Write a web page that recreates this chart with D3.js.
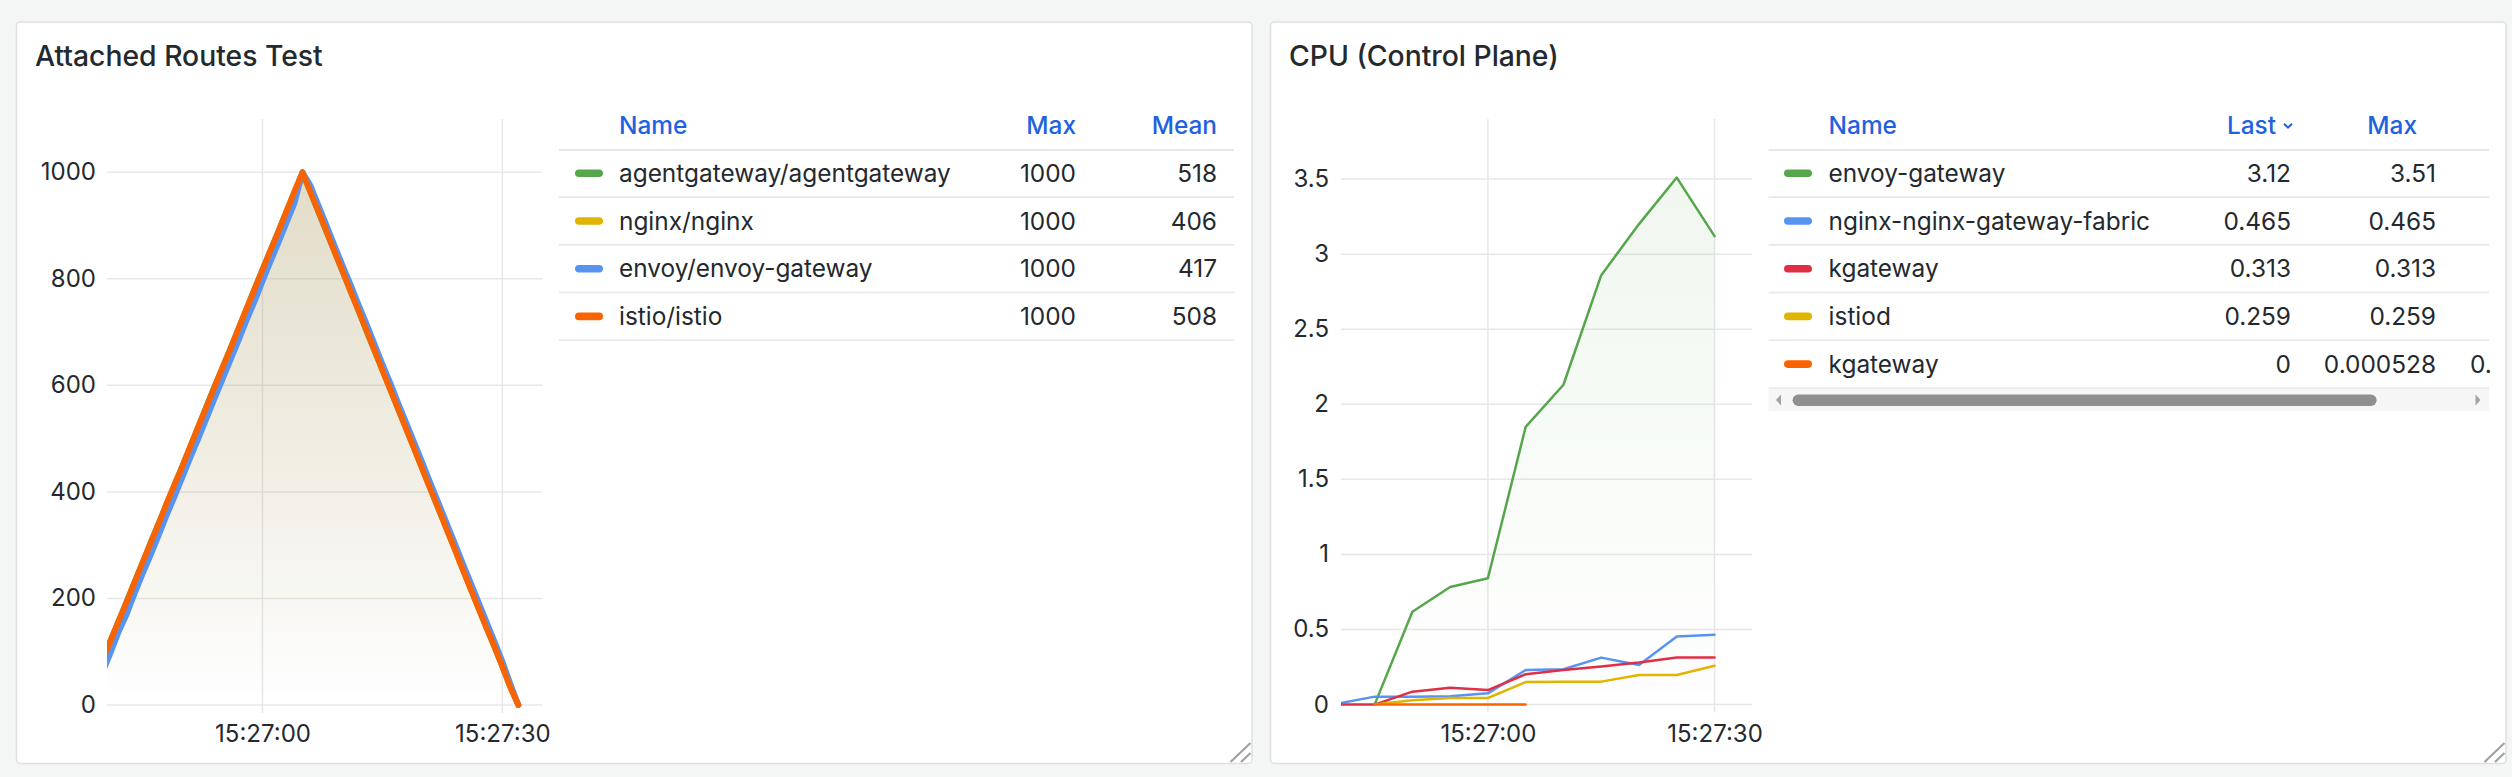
<!DOCTYPE html>
<html>
<head>
<meta charset="utf-8">
<script src="https://cdn.jsdelivr.net/npm/d3@7"></script>
<style>
  html, body { margin: 0; padding: 0; background: #f4f5f5; }
  svg { display: block; font-family: Inter, "Noto Sans", sans-serif; }
</style>
</head>
<body>
<svg id="chart" width="2512" height="777"></svg>
<script>
// ---------------- DATA ----------------
// Attached Routes Test: seconds after 15:26:00, one sample per second
const routeSeconds = [
  40,41,42,43,44,45,46,47,48,49,
  50,51,52,53,54,55,56,57,58,59,
  60,61,62,63,64,65,66,67,68,69,
  70,71,72,73,74,75,76,77,78,79,
  80,81,82,83,84,85,86,87,88,89,
  90,91,92
];
const routeNames = ["agentgateway/agentgateway", "nginx/nginx", "envoy/envoy-gateway", "istio/istio"];
const routeColors = ["#56A64B", "#E0B400", "#5794F2", "#FA6400"];
const agentgatewayRoutes = [
  86,122,157,194,230,267,305,341,377,413,
  450,486,523,561,598,633,670,706,743,781,
  818,853,890,926,963,1000,963,925,888,852,
  814,778,741,702,665,629,592,554,518,481,
  443,406,368,332,295,257,220,183,146,109,
  73,34,0
];
const nginxRoutes = [
  72,108,146,180,219,255,291,329,366,402,
  437,475,512,548,585,622,657,695,732,768,
  805,842,877,915,952,994,965,928,891,854,
  817,780,743,706,668,631,594,557,520,483,
  445,408,371,334,297,259,222,185,148,113,
  76,38,0
];
const envoyRoutes = [
  62,98,137,170,209,246,281,318,356,391,
  428,465,501,538,575,611,648,684,722,757,
  795,832,868,905,942,1000,975,938,901,863,
  826,790,752,716,678,640,604,566,529,492,
  455,417,380,343,306,268,231,194,157,120,
  82,40,0
];
const istioRoutes = [
  85,121,158,193,231,268,304,340,378,414,
  449,487,524,560,597,634,669,707,744,780,
  817,854,889,927,964,1000,962,926,889,851,
  815,777,740,703,666,628,591,555,517,480,
  442,405,369,331,294,256,219,182,145,110,
  72,33,0
];
const routeMax = ["1000", "1000", "1000", "1000"];
const routeMean = ["518", "406", "417", "508"];
const routeYTicks = [0, 200, 400, 600, 800, 1000];

// CPU (Control Plane): 5 second samples
const cpuTimes = ["15:26:40","15:26:45","15:26:50","15:26:55","15:27:00","15:27:05","15:27:10","15:27:15","15:27:20","15:27:25","15:27:30"];
const cpuEnvoyGateway = [null, 0, 0.618, 0.783, 0.842, 1.85, 2.13, 2.86, 3.20, 3.51, 3.12];
const cpuNginxFabric  = [0.005, 0.053, 0.053, 0.055, 0.075, 0.23, 0.235, 0.313, 0.264, 0.453, 0.465];
const cpuKgateway     = [0, 0, 0.086, 0.113, 0.097, 0.202, 0.231, 0.253, 0.28, 0.313, 0.313];
const cpuIstiod       = [null, 0, 0.029, 0.044, 0.044, 0.15, 0.153, 0.153, 0.197, 0.197, 0.259];
const cpuKgateway2    = [null, 0, 0, 0.000528, 0, 0, null, null, null, null, null];
const cpuNames  = ["envoy-gateway", "nginx-nginx-gateway-fabric", "kgateway", "istiod", "kgateway"];
const cpuColors = ["#56A64B", "#5794F2", "#E02F44", "#E0B400", "#FA6400"];
const cpuLast = ["3.12", "0.465", "0.313", "0.259", "0"];
const cpuMax  = ["3.51", "0.465", "0.313", "0.259", "0.000528"];
// third legend column: only its first characters are visible before the scroll edge
const cpuThirdVisible = ["", "", "", "", "0."];
const cpuYTicks = [0, 0.5, 1, 1.5, 2, 2.5, 3, 3.5];

const timeTicks = ["15:27:00", "15:27:30"];
const timeDomain = ["15:26:40.550", "15:27:34.960"];

// ---------------- RENDER ----------------
const svg = d3.select("#chart");
const TEXT = "#24292e";
const BLUE = "#1F62E0";
const GRID = "#e6e7e8";
const BORDER = "#dfe0e2";
const FONT = "Inter, 'Noto Sans', sans-serif";
const parseT = d3.timeParse("%H:%M:%S");
const parseTms = d3.timeParse("%H:%M:%S.%L");
const baseT = parseT("15:26:00");
const defs = svg.append("defs");

function panel(x0, y0, x1, y1, title) {
  svg.append("rect").attr("x", x0 + 0.5).attr("y", y0 + 0.5)
    .attr("width", x1 - x0).attr("height", y1 - y0).attr("rx", 4)
    .attr("fill", "#fff").attr("stroke", BORDER).attr("stroke-width", 1.5);
  svg.append("text").attr("x", x0 + 19).attr("y", 66)
    .attr("font-size", 28.3).attr("font-weight", 500).attr("fill", TEXT).text(title);
  // resize handle
  const hx = x1 - 1, hy = y1 - 1;
  svg.append("line").attr("x1", hx - 20).attr("y1", hy).attr("x2", hx).attr("y2", hy - 19)
    .attr("stroke", "#9fa1a4").attr("stroke-width", 2.2);
  svg.append("line").attr("x1", hx - 9.5).attr("y1", hy).attr("x2", hx).attr("y2", hy - 9)
    .attr("stroke", "#9fa1a4").attr("stroke-width", 2.2);
}

function timeSeries(cfg) {
  const x = d3.scaleTime().domain(timeDomain.map(parseTms)).range([cfg.x0, cfg.x1]);
  const y = d3.scaleLinear().domain(cfg.yDomain).range([cfg.y1, cfg.y0]);
  const g = svg.append("g");
  // grid
  g.selectAll(".hg").data(cfg.yTicks).enter().append("line")
    .attr("x1", cfg.x0).attr("x2", cfg.x1)
    .attr("y1", d => y(d)).attr("y2", d => y(d))
    .attr("stroke", GRID).attr("stroke-width", 1.5);
  g.selectAll(".vg").data(timeTicks.map(parseT)).enter().append("line")
    .attr("x1", d => x(d)).attr("x2", d => x(d))
    .attr("y1", cfg.y0).attr("y2", cfg.y1 + 8)
    .attr("stroke", GRID).attr("stroke-width", 1.5);
  // axes via d3 axis generators, styled like Grafana
  const yAxis = d3.axisLeft(y).tickValues(cfg.yTicks).tickSize(0).tickPadding(0)
    .tickFormat(d3.format("~g"));
  const ya = g.append("g").attr("transform", `translate(${cfg.yLabelX},0)`).call(yAxis);
  ya.select(".domain").remove();
  ya.selectAll("text").attr("font-size", 24).attr("fill", TEXT)
    .attr("font-family", FONT).attr("dy", "0.31em");
  const xAxis = d3.axisBottom(x).tickValues(timeTicks.map(parseT)).tickSize(0).tickPadding(0)
    .tickFormat(d3.timeFormat("%H:%M:%S"));
  const xa = g.append("g").attr("transform", `translate(0,${cfg.xLabelY})`).call(xAxis);
  xa.select(".domain").remove();
  xa.selectAll("text").attr("font-size", 24).attr("fill", TEXT)
    .attr("font-family", FONT).attr("y", 0).attr("dy", 0);

  const clipId = "clip" + cfg.id;
  defs.append("clipPath").attr("id", clipId).append("rect")
    .attr("x", cfg.x0).attr("y", cfg.y0 - 10).attr("width", cfg.x1 - cfg.x0).attr("height", cfg.y1 - cfg.y0 + 14);
  const plot = g.append("g").attr("clip-path", `url(#${clipId})`);

  cfg.series.forEach((s, i) => {
    const gid = "grad" + cfg.id + i;
    const grad = defs.append("linearGradient").attr("id", gid)
      .attr("gradientUnits", "userSpaceOnUse")
      .attr("x1", 0).attr("x2", 0).attr("y1", cfg.y0).attr("y2", cfg.y1);
    grad.append("stop").attr("offset", 0).attr("stop-color", s.color).attr("stop-opacity", 0.1);
    grad.append("stop").attr("offset", 1).attr("stop-color", s.color).attr("stop-opacity", 0);
    const defined = d => d.v !== null;
    plot.append("path").datum(s.data)
      .attr("d", d3.area().defined(defined).x(d => x(d.t)).y0(y(0)).y1(d => y(d.v)))
      .attr("fill", `url(#${gid})`);
  });
  cfg.series.forEach(s => {
    const defined = d => d.v !== null;
    plot.append("path").datum(s.data)
      .attr("d", d3.line().defined(defined).x(d => x(d.t)).y(d => y(d.v)))
      .attr("fill", "none").attr("stroke", s.color).attr("stroke-width", cfg.lineWidth)
      .attr("stroke-linejoin", "round").attr("stroke-linecap", "round");
  });
}

function legend(cfg) {
  const g = svg.append("g");
  const headerY = 125.7, rowY0 = 173.3, rowH = 47.7;
  const FS = 24.4;
  g.append("text").attr("x", cfg.nameX).attr("y", headerY).attr("dy", "0.35em")
    .attr("font-size", FS).attr("font-weight", 500).attr("fill", BLUE).text("Name");
  cfg.columns.forEach(c => {
    if (c.label) {
      g.append("text").attr("x", c.headerRight).attr("y", headerY).attr("dy", "0.35em")
        .attr("text-anchor", "end").attr("font-size", FS).attr("font-weight", 500)
        .attr("fill", BLUE).text(c.label);
    }
    if (c.sorted) {
      g.append("path")
        .attr("d", `M${c.headerRight + 8},${headerY - 2} l4,4 l4,-4`)
        .attr("fill", "none").attr("stroke", BLUE).attr("stroke-width", 2);
    }
  });
  g.append("line").attr("x1", cfg.lx0).attr("x2", cfg.lx1)
    .attr("y1", 150).attr("y2", 150).attr("stroke", GRID).attr("stroke-width", 2.2);
  cfg.names.forEach((n, i) => {
    const cy = rowY0 + i * rowH;
    g.append("rect").attr("x", cfg.swatchX).attr("y", cy - 3.8).attr("width", 28).attr("height", 7.6)
      .attr("rx", 3.8).attr("fill", cfg.colors[i]);
    g.append("text").attr("x", cfg.nameX).attr("y", cy).attr("dy", "0.35em")
      .attr("font-size", FS).attr("fill", TEXT).text(n);
    cfg.columns.forEach(c => {
      if (!c.values[i]) return;
      g.append("text").attr("x", c.anchor === "start" ? c.valueLeft : c.valueRight)
        .attr("y", cy).attr("dy", "0.35em")
        .attr("text-anchor", c.anchor === "start" ? "start" : "end")
        .attr("font-size", FS).attr("fill", TEXT).text(c.values[i]);
    });
    g.append("line").attr("x1", cfg.lx0).attr("x2", cfg.lx1)
      .attr("y1", cy + rowH / 2).attr("y2", cy + rowH / 2)
      .attr("stroke", GRID).attr("stroke-width", 1.6);
  });
  if (cfg.scrollbar) {
    const sy = rowY0 + cfg.names.length * rowH - rowH / 2 + 1;
    g.append("rect").attr("x", cfg.lx0).attr("y", sy).attr("width", cfg.lx1 - cfg.lx0).attr("height", 22)
      .attr("fill", "#f6f6f6");
    g.append("rect").attr("x", 1792.6).attr("y", sy + 5.5).attr("width", 584).attr("height", 11.5)
      .attr("rx", 5.75).attr("fill", "#8f8f8f");
    g.append("path").attr("d", `M1776,${sy + 11} l5,-5.5 v11 z`).attr("fill", "#a3a3a3");
    g.append("path").attr("d", `M2480.5,${sy + 11} l-5,-5.5 v11 z`).attr("fill", "#a3a3a3");
  }
}

// Panels
panel(16, 21.5, 1251.5, 763, "Attached Routes Test");
panel(1270, 21.5, 2505.5, 763, "CPU (Control Plane)");

const routeSeriesValues = [agentgatewayRoutes, nginxRoutes, envoyRoutes, istioRoutes];
timeSeries({
  id: "routes", x0: 107, x1: 542, y0: 119, y1: 705,
  yDomain: [0, 1100], yTicks: routeYTicks, yLabelX: 96, xLabelY: 742,
  lineWidth: 5.8,
  series: routeSeriesValues.map((vals, i) => ({
    color: routeColors[i],
    data: vals.map((v, k) => ({ t: d3.timeSecond.offset(baseT, routeSeconds[k]), v }))
  }))
});
legend({
  id: "routes", lx0: 559, lx1: 1234, swatchX: 575, nameX: 619,
  names: routeNames, colors: routeColors,
  columns: [
    { label: "Max", headerRight: 1076, valueRight: 1076, values: routeMax },
    { label: "Mean", headerRight: 1217, valueRight: 1217, values: routeMean }
  ]
});

const cpuSeriesValues = [cpuEnvoyGateway, cpuNginxFabric, cpuKgateway, cpuIstiod, cpuKgateway2];
timeSeries({
  id: "cpu", x0: 1341, x1: 1752, y0: 119, y1: 704.6,
  yDomain: [0, 3.9], yTicks: cpuYTicks, yLabelX: 1329, xLabelY: 742,
  lineWidth: 2.5,
  series: cpuSeriesValues.map((vals, i) => ({
    color: cpuColors[i],
    data: vals.map((v, k) => ({ t: parseT(cpuTimes[k]), v }))
  }))
});
legend({
  id: "cpu", lx0: 1768.6, lx1: 2489, swatchX: 1784, nameX: 1828.6,
  names: cpuNames, colors: cpuColors, scrollbar: true,
  columns: [
    { label: "Last", headerRight: 2276, valueRight: 2291, values: cpuLast, sorted: true },
    { label: "Max", headerRight: 2417, valueRight: 2436, values: cpuMax },
    { label: "", anchor: "start", valueLeft: 2470, values: cpuThirdVisible }
  ]
});
</script>
</body>
</html>
